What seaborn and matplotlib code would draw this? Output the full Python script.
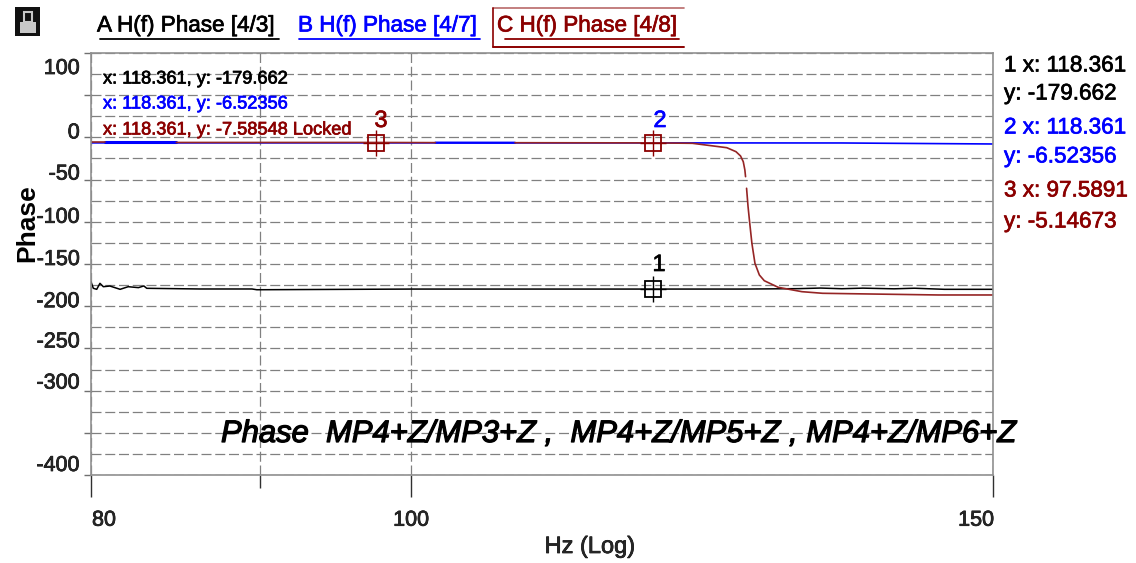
import matplotlib
matplotlib.use("Agg")
import matplotlib.pyplot as plt
import matplotlib.patheffects as pe
from matplotlib.patches import Rectangle
from matplotlib.ticker import FixedLocator, NullFormatter
from matplotlib.transforms import ScaledTranslation
import pandas as pd
import seaborn as sns

BLACK, BLUE, RED = "#000000", "#0000ff", "#8b0000"

a_freq = [80, 80.13, 80.32, 80.5, 80.69, 81.06, 81.64, 82.1, 82.69, 83, 83.17, 86.3, 89.5, 89.8, 100, 126, 131, 133, 135, 137, 140, 142, 145, 150]
a_phase = [-171, -178.8, -180, -172.9, -176.9, -176.1, -180, -176.9, -178, -176, -178.8, -179.6, -179.6, -180.5, -179.7, -179.7, -179.2, -178.5, -179.3, -178.6, -179.4, -178.7, -180, -180]
b_freq = [80, 118.361, 135, 150]
b_phase = [-6.5, -6.52, -6.6, -7.8]
c_seg1_freq = [80, 80.8]
c_seg1_phase = [-5.5, -5.5]
c_seg2_freq = [84.9, 97.59, 101.7]
c_seg2_phase = [-6.0, -6.0, -6.2]
c_seg3_freq = [107.5, 118.361, 121.65, 124.6, 125.4, 125.8, 126.04, 126.18, 126.24]
c_seg3_phase = [-6.3, -6.5, -7.0, -12.2, -16.9, -22, -28.8, -38.6, -46.5]
c_seg4_freq = [126.33, 126.46, 126.61, 126.8, 127.07, 127.46, 127.9, 129.14, 131.3, 133.2, 135.8, 144.4, 150]
c_seg4_phase = [-60.3, -82, -101.8, -125.5, -149.2, -163, -169.8, -177.6, -182.8, -184.7, -185.2, -186.7, -186.7]
b_overlay_freq = [80.8, 84.9]
b_overlay_phase = [-5.6, -5.6]
b_overlay2_freq = [101.7, 107.5]
b_overlay2_phase = [-6.2, -6.3]

marker_freq = [118.361, 118.361, 97.5891]
marker_phase = [-179.662, -6.52356, -7.0]
marker_colors = [BLACK, RED, RED]

y_ticks = [100, 50, 0, -50, -100, -150, -200, -250, -300, -350, -400]
y_labels = {100: "100", 0: "0", -50: "-50", -100: "-100", -150: "-150", -200: "-200", -250: "-250", -300: "-300", -400: "-400"}
y_label_shift = {100: -13, 0: 7, -50: 8, -100: 7, -150: 7, -200: 7, -250: 9, -300: 10, -400: 12}
y_minor = [75, 25, -25, -75, -125, -175, -225, -275, -325, -375]

sns.set_theme(style="white")
plt.rcParams["font.family"] = ["Liberation Sans", "DejaVu Sans"]
W, H = 1136, 563
fig = plt.figure(figsize=(W / 100, H / 100), dpi=100)
ax = fig.add_axes([91 / W, 1 - 475 / H, (993 - 91) / W, (475 - 53) / H])


def bold(color, w=0.5):
    return [pe.withStroke(linewidth=w, foreground=color)]


def line(x, y, color, lw=1.2):
    df = pd.DataFrame({"Hz": x, "Phase": y})
    sns.lineplot(data=df, x="Hz", y="Phase", color=color, linewidth=lw, ax=ax, sort=False, estimator=None, errorbar=None)


line(a_freq, a_phase, BLACK, 1.1)
line(b_freq, b_phase, BLUE, 1.2)
line(b_overlay_freq, b_overlay_phase, BLUE, 2.2)
line(b_overlay2_freq, b_overlay2_phase, BLUE, 1.6)
for fx, py in [(c_seg1_freq, c_seg1_phase), (c_seg2_freq, c_seg2_phase), (c_seg3_freq, c_seg3_phase), (c_seg4_freq, c_seg4_phase)]:
    line(fx, py, "#952525", 1.2)

ax.set_xscale("log")
ax.set_xlim(80, 150)
ax.set_ylim(-400, 100)
ax.tick_params(axis="y", which="major", length=5, width=1, color="#707070", pad=3, left=True)
ax.tick_params(axis="y", which="minor", length=0)
ax.tick_params(axis="x", which="major", length=16, width=1, color="#303030", pad=9, bottom=True, direction="out")
ax.tick_params(axis="x", which="minor", length=9, width=1, color="#303030", bottom=True, direction="out")
ax.set_xticks([80, 100, 150])
ax.set_xticklabels(["80", "100", "150"], fontsize=15.5)
ax.xaxis.set_minor_locator(FixedLocator([90]))
ax.xaxis.set_minor_formatter(NullFormatter())
for lab, ha, shift in zip(ax.get_xticklabels(), ["left", "center", "right"], [1, 0, 1]):
    lab.set_ha(ha)
    lab.set_path_effects(bold(BLACK))
    lab.set_transform(lab.get_transform() + ScaledTranslation(shift / 100, 0, fig.dpi_scale_trans))
ax.set_yticks(y_ticks)
ax.set_yticklabels([y_labels.get(v, "") for v in y_ticks], fontsize=15.5)
for v, lab in zip(y_ticks, ax.get_yticklabels()):
    lab.set_path_effects(bold(BLACK))
    lab.set_transform(lab.get_transform() + ScaledTranslation(0, y_label_shift.get(v, 0) / 100, fig.dpi_scale_trans))
ax.yaxis.set_minor_locator(FixedLocator(y_minor))
ax.grid(True, which="both", axis="both", color="#808080", linewidth=0.9, linestyle=(0, (8, 3)))
for s in ax.spines.values():
    s.set_color("#909090")
    s.set_linewidth(1.2)
    s.set_visible(True)
ax.set_xlabel("Hz (Log)", fontsize=17, labelpad=0, path_effects=bold(BLACK))
ax.xaxis.set_label_coords((590 - 91) / 902, -(547 - 475) / 422, transform=ax.transAxes)
ax.xaxis.label.set_va("center")
ax.set_ylabel("Phase", fontsize=19, fontweight="bold", color=BLACK, va="center", ha="center")
ax.yaxis.set_label_coords(-(91 - 27) / 902, (475 - 223) / 422, transform=ax.transAxes)

for fx, py, mc in zip(marker_freq, marker_phase, marker_colors):
    ax.plot([fx], [py], marker="s", ms=11.5, mfc="none", mec=mc, mew=1.3, zorder=5, clip_on=False)
    ax.plot([fx], [py], marker="+", ms=19, mec=mc, mew=1.0, zorder=5)


def txt(x, y, s, color=BLACK, size=13.5, ha="left", w=0.5, **kw):
    t = fig.text(x / W, 1 - y / H, s, color=color, fontsize=size, ha=ha, va="center", **kw)
    t.set_path_effects(bold(color, w))
    return t


def hline(x0, x1, y, color, lw=1.3):
    fig.add_artist(plt.Line2D([x0 / W, x1 / W], [1 - y / H, 1 - y / H], color=color, lw=lw))


txt(97, 26, "A H(f) Phase [4/3]", BLACK, 16.2)
hline(100, 279, 39, BLACK)
txt(298, 26, "B H(f) Phase [4/7]", BLUE, 16.2)
hline(299, 480, 39, BLUE)
txt(497, 26, "C H(f) Phase [4/8]", RED, 16.2)
hline(505, 679, 39, RED)
hline(493, 684, 47, RED, 1.4)
hline(493, 684, 8, "#b96a6a", 1.2)
fig.add_artist(plt.Line2D([493 / W, 493 / W], [1 - 47 / H, 1 - 8 / H], color=RED, lw=1.2))

txt(103, 79, "x: 118.361, y: -179.662", BLACK, 13.1)
txt(103, 104, "x: 118.361, y: -6.52356", BLUE, 13.1)
txt(103, 130, "x: 118.361, y: -7.58548 Locked", RED, 13.1)

for (x, y, s, c) in [(659, 265, "1", BLACK), (660, 121, "2", BLUE), (381, 121, "3", RED)]:
    txt(x, y, s, c, 17, ha="center")

for (y, s, c) in [(66, "1 x: 118.361", BLACK), (94, "y: -179.662", BLACK), (128, "2 x: 118.361", BLUE), (157, "y: -6.52356", BLUE),
                  (191, "3 x: 97.5891", RED), (222, "y: -5.14673", RED)]:
    txt(1004, y, s, c, 16.2)

txt(221, 434, "Phase  MP4+Z/MP3+Z ,  MP4+Z/MP5+Z , MP4+Z/MP6+Z", BLACK, 22.3, w=0.9, style="italic")

# lock icon
fig.add_artist(Rectangle((15 / W, 1 - 36 / H), 25 / W, 29 / H, transform=fig.transFigure, color="#111111", lw=0))
fig.add_artist(Rectangle((20 / W, 1 - 33 / H), 16 / W, 11 / H, transform=fig.transFigure, color="#c8c8c8", lw=0))
fig.add_artist(Rectangle((24 / W, 1 - 22 / H), 8 / W, 10 / H, transform=fig.transFigure, fill=False, ec="#c8c8c8", lw=1.5))

fig.savefig("out.png", dpi=100)
